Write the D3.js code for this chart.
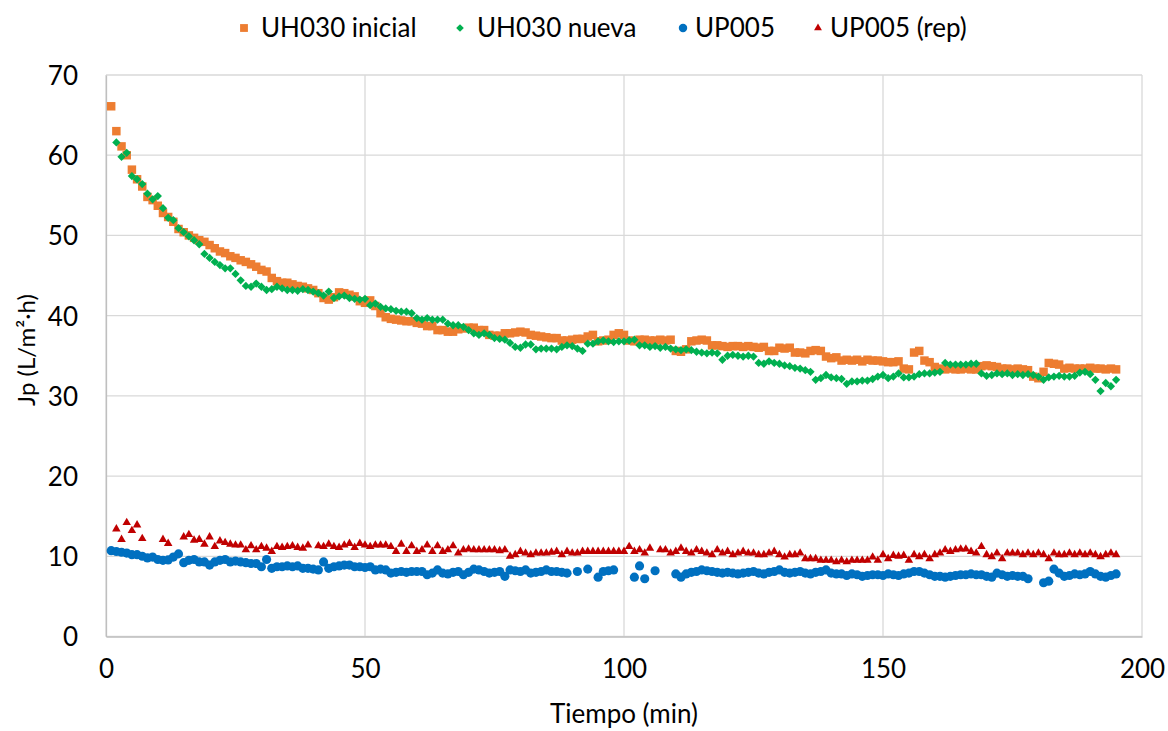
<!DOCTYPE html>
<html><head><meta charset="utf-8">
<script src="https://cdn.jsdelivr.net/npm/d3@7"></script>
<style>
html,body{margin:0;padding:0;background:#fff;}
svg text{font-family:Lato,"Open Sans",sans-serif;fill:#000;}
</style></head>
<body><svg id="c" width="1168" height="731"></svg>
<script>
const minutes = [1,2,3,4,5,6,7,8,9,10,11,12,13,14,15,16,17,18,19,20,21,22,23,24,25,26,27,28,29,30,31,32,33,34,35,36,37,38,39,40,41,42,43,44,45,46,47,48,49,50,51,52,53,54,55,56,57,58,59,60,61,62,63,64,65,66,67,68,69,70,71,72,73,74,75,76,77,78,79,80,81,82,83,84,85,86,87,88,89,90,91,92,93,94,95,96,97,98,99,100,101,102,103,104,105,106,107,108,109,110,111,112,113,114,115,116,117,118,119,120,121,122,123,124,125,126,127,128,129,130,131,132,133,134,135,136,137,138,139,140,141,142,143,144,145,146,147,148,149,150,151,152,153,154,155,156,157,158,159,160,161,162,163,164,165,166,167,168,169,170,171,172,173,174,175,176,177,178,179,180,181,182,183,184,185,186,187,188,189,190,191,192,193,194,195];

const uh030Inicial = [66.1,63.0,61.1,60.0,58.2,57.0,56.1,54.8,54.4,53.7,52.8,52.3,51.7,50.8,50.4,50.0,49.7,49.4,49.2,48.8,48.4,48.0,47.8,47.4,47.2,46.9,46.7,46.4,46.1,45.7,45.5,44.7,44.3,44.1,44.1,43.9,43.7,43.6,43.4,43.2,42.8,42.2,42.0,42.3,42.9,42.8,42.6,42.4,41.8,41.6,41.9,41.2,40.3,39.8,39.6,39.5,39.4,39.3,39.3,39.1,39.0,38.7,38.7,38.2,38.2,38.0,38.0,38.3,38.4,38.5,38.5,38.2,38.2,37.6,37.5,37.5,37.8,37.8,37.9,38.0,37.9,37.6,37.5,37.4,37.3,37.2,37.2,36.9,36.9,37.0,37.1,37.1,37.4,37.6,36.8,36.9,37.0,37.6,37.8,37.6,36.9,36.8,37.0,37.0,36.9,36.9,37.0,36.9,37.0,35.6,35.5,35.8,36.8,36.9,37.0,36.9,36.3,36.3,36.2,36.1,36.2,36.2,36.1,36.2,36.1,36.0,36.1,35.6,35.6,36.0,35.9,36.0,35.4,35.4,35.3,35.6,35.7,35.6,34.9,34.7,34.8,34.4,34.5,34.4,34.5,34.3,34.5,34.4,34.4,34.3,34.2,34.2,34.3,33.4,33.3,35.4,35.6,34.4,34.2,33.6,33.4,33.3,33.4,33.3,33.3,33.4,33.3,33.3,33.7,33.8,33.7,33.6,33.4,33.4,33.3,33.4,33.3,33.2,32.4,32.2,33.0,34.1,34.0,33.9,33.4,33.5,33.4,33.4,33.4,33.5,33.4,33.4,33.3,33.4,33.3];

const uh030Nueva = [null,61.6,59.8,60.3,57.4,57.0,56.4,55.2,54.5,54.9,53.4,52.2,51.9,50.9,50.4,49.9,49.4,48.9,47.7,47.2,46.7,46.3,45.9,45.9,45.2,44.4,43.7,43.6,44.0,43.6,43.2,43.3,43.6,43.4,43.2,43.2,43.1,43.3,43.2,43.0,42.8,42.5,43.0,42.2,42.4,42.5,42.2,42.1,42.0,42.1,41.3,41.5,41.1,40.9,40.8,40.6,40.5,40.5,40.3,39.7,39.5,39.7,39.5,39.5,39.5,39.0,38.8,38.8,38.6,38.2,37.8,37.6,37.8,37.6,37.2,37.1,37.0,36.6,36.1,36.0,36.4,36.4,35.8,35.9,35.9,35.9,35.8,36.1,36.3,36.2,35.9,35.6,36.5,36.5,36.8,36.9,36.8,36.7,36.8,36.8,36.9,37.0,36.3,36.3,36.1,36.2,36.0,36.1,35.9,35.8,35.7,35.8,35.7,35.5,35.4,35.3,35.4,35.3,34.5,35.0,35.1,35.0,34.9,35.0,34.9,34.1,34.0,34.3,34.1,34.0,33.8,33.7,33.5,33.4,33.2,33.0,32.0,32.2,32.6,32.3,32.2,32.1,31.5,31.8,31.8,31.9,31.9,32.1,32.4,32.6,32.2,32.4,32.8,32.3,32.3,32.4,32.7,32.8,32.8,32.9,33.0,34.1,33.9,33.9,33.9,33.9,34.0,34.0,32.8,32.5,32.6,32.8,32.7,32.8,32.6,32.7,32.6,32.7,32.6,32.4,32.0,32.3,32.4,32.5,32.4,32.4,32.5,32.9,33.0,32.7,32.0,30.6,31.6,31.2,32.0];

const up005 = [10.7,10.6,10.5,10.4,10.2,10.2,10.0,9.8,9.9,9.6,9.5,9.55,9.9,10.3,9.2,9.5,9.6,9.3,9.3,8.9,9.3,9.5,9.6,9.3,9.4,9.3,9.2,9.1,9.1,8.7,9.6,8.5,8.7,8.7,8.8,8.7,8.8,8.5,8.5,8.4,8.3,9.3,8.5,8.7,8.8,8.9,8.9,8.7,8.7,8.6,8.7,8.3,8.4,8.3,7.9,8.0,8.1,8.0,8.1,8.1,8.1,7.7,7.9,8.3,7.9,7.8,8.0,8.1,7.7,8.0,8.4,8.3,8.1,7.9,8.0,8.1,7.5,8.3,8.2,8.1,8.3,7.9,8.0,8.1,8.3,8.1,8.1,8.0,7.9,null,8.1,null,8.4,null,7.4,8.1,8.2,8.3,null,null,null,7.4,8.8,7.2,null,8.2,null,null,null,7.8,7.4,7.8,8.0,8.1,8.3,8.2,8.1,8.0,7.9,8.0,7.9,7.8,7.9,8.0,8.1,7.9,7.8,8.0,8.1,8.3,8.0,7.9,8.0,8.1,7.9,7.8,8.0,8.1,8.3,7.9,7.8,7.8,7.6,7.8,7.7,7.5,7.6,7.7,7.7,7.6,7.8,7.7,7.6,7.8,7.9,8.1,8.1,7.9,7.7,7.5,7.5,7.4,7.5,7.6,7.7,7.7,7.8,7.7,7.7,7.5,7.4,7.9,7.7,7.5,7.6,7.5,7.5,7.2,null,null,6.7,6.9,8.4,7.9,7.5,7.6,7.8,7.7,7.8,8.1,7.8,7.5,7.4,7.6,7.8];

const up005Rep = [null,13.4,12.1,14.2,13.2,13.9,12.2,null,null,null,12.1,11.6,null,null,12.4,12.7,12.0,12.1,11.5,12.4,11.2,11.9,11.7,11.5,11.4,11.4,10.8,11.3,10.8,11.2,11.0,10.6,11.2,11.1,11.2,11.3,11.1,11.0,11.4,null,11.3,11.2,11.5,11.2,11.1,11.4,11.6,11.1,11.6,11.4,11.2,11.4,11.4,11.4,11.2,10.6,11.5,10.6,11.3,10.6,10.8,11.4,10.6,11.3,10.6,10.8,11.3,10.4,10.8,10.9,10.8,10.8,10.8,10.8,10.8,10.7,10.8,10.0,10.2,10.6,10.4,10.2,10.4,10.4,10.4,10.5,10.6,10.2,10.6,10.4,10.4,10.6,10.6,10.6,10.6,10.6,10.6,10.6,10.6,10.6,11.2,10.6,10.8,10.4,11.0,null,10.8,10.8,10.4,10.6,11.0,10.6,10.4,10.8,10.6,10.4,10.2,10.8,10.4,10.6,10.2,10.4,10.6,10.4,10.4,10.2,10.2,10.4,10.6,10.2,9.9,10.2,10.2,10.4,9.7,9.7,9.7,9.5,9.5,9.5,9.3,9.5,9.3,9.5,9.5,9.5,9.5,9.9,9.5,10.2,9.7,10.1,10.0,10.1,9.5,10.2,9.95,10.2,9.7,10.2,10.4,10.8,10.6,10.8,10.9,10.9,10.6,10.4,11.2,10.2,9.95,10.4,9.7,10.4,10.4,10.4,10.2,10.4,10.2,10.4,10.2,9.7,10.4,10.2,10.2,10.4,10.2,10.4,10.2,10.4,10.2,9.95,10.2,10.4,10.2];

const seriesNames = ["UH030 inicial","UH030 nueva","UP005","UP005 (rep)"];
const seriesColors = ["#ED7D31","#00B050","#0070C0","#C00000"];
const seriesSymbols = [d3.symbolSquare, d3.symbolDiamond2, d3.symbolCircle, d3.symbolTriangle2];
const seriesSizes = [72, 44, 66, 52];
const seriesValues = [uh030Inicial, uh030Nueva, up005, up005Rep];
const xTicks = [0,50,100,150,200];
const yTicks = [0,10,20,30,40,50,60,70];

const svg = d3.select("#c");
const L = 106, R = 1142, T = 75, B = 636.5;
const x = d3.scaleLinear().domain([0,200]).range([L,R]);
const y = d3.scaleLinear().domain([0,70]).range([B,T]);

// gridlines
svg.append("g").selectAll("line").data(yTicks).join("line")
  .attr("x1",L).attr("x2",R).attr("y1",d=>y(d)).attr("y2",d=>y(d))
  .attr("stroke","#D9D9D9").attr("stroke-width",1.3);
svg.append("g").selectAll("line").data(xTicks).join("line")
  .attr("x1",d=>x(d)).attr("x2",d=>x(d)).attr("y1",T).attr("y2",B)
  .attr("stroke","#D9D9D9").attr("stroke-width",1.3);

// axes
const xAxis = d3.axisBottom(x).tickValues(xTicks).tickSize(0).tickPadding(0);
const gx = svg.append("g").attr("transform",`translate(0,${B})`).call(xAxis);
gx.select(".domain").attr("stroke","#BFBFBF").attr("stroke-width",1.3);
gx.selectAll("text").style("font-size","26px").attr("y",41.5).attr("dy",null);
const yAxis = d3.axisLeft(y).tickValues(yTicks).tickSize(0).tickPadding(28);
const gy = svg.append("g").attr("transform",`translate(${L},0)`).call(yAxis);
gy.select(".domain").attr("stroke","#BFBFBF").attr("stroke-width",1.3);
gy.selectAll("text").style("font-size","26px").attr("dy","0.36em");

// axis titles
svg.append("text").attr("x",624).attr("y",723).attr("text-anchor","middle")
  .style("font-size","26px").text("Tiempo (min)");
svg.append("text").attr("transform",`translate(35,350) rotate(-90)`).attr("text-anchor","middle")
  .style("font-size","24px").text("Jp (L/m²·h)");

// series
const plot = svg.append("g");
seriesValues.forEach((vals,i)=>{
  const pts = minutes.map((m,j)=>({m, v:vals[j]})).filter(d=>d.v!==null);
  const sym = d3.symbol().type(seriesSymbols[i]).size(seriesSizes[i]);
  plot.append("g").selectAll("path").data(pts).join("path")
    .attr("transform",d=>`translate(${x(d.m)},${y(d.v)})`)
    .attr("d",sym).attr("fill",seriesColors[i]);
});

// legend
const legX = [244, 460, 683, 818];
const leg = svg.append("g");
seriesNames.forEach((n,i)=>{
  const sym = d3.symbol().type(seriesSymbols[i]).size(seriesSizes[i]*0.85);
  leg.append("path").attr("transform",`translate(${legX[i]},28)`).attr("d",sym).attr("fill",seriesColors[i]);
  leg.append("text").attr("x",legX[i]+(i<2?17:12)).attr("y",37)
    .style("font-size","26px").text(n);
});
</script></body></html>
